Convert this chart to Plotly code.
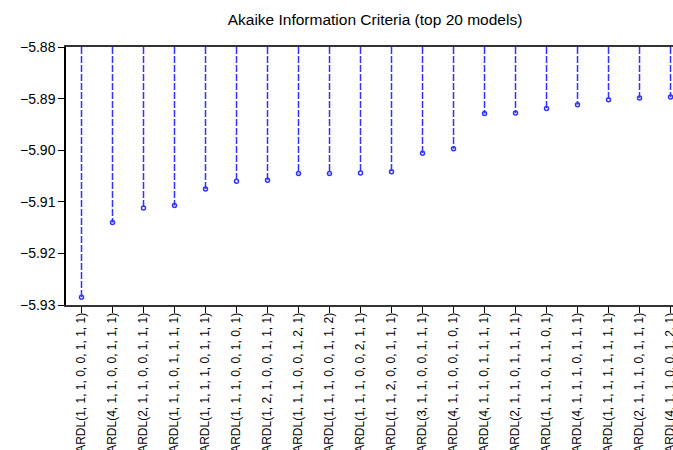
import plotly.graph_objects as go

models = [
    "ARDL(1, 1, 1, 0, 0, 1, 1, 1)",
    "ARDL(4, 1, 1, 0, 0, 1, 1, 1)",
    "ARDL(2, 1, 1, 0, 0, 1, 1, 1)",
    "ARDL(1, 1, 1, 0, 1, 1, 1, 1)",
    "ARDL(1, 1, 1, 1, 0, 1, 1, 1)",
    "ARDL(1, 1, 1, 0, 0, 1, 0, 1)",
    "ARDL(1, 2, 1, 0, 0, 1, 1, 1)",
    "ARDL(1, 1, 1, 0, 0, 1, 2, 1)",
    "ARDL(1, 1, 1, 0, 0, 1, 1, 2)",
    "ARDL(1, 1, 1, 0, 0, 2, 1, 1)",
    "ARDL(1, 1, 2, 0, 0, 1, 1, 1)",
    "ARDL(3, 1, 1, 0, 0, 1, 1, 1)",
    "ARDL(4, 1, 1, 0, 0, 1, 0, 1)",
    "ARDL(4, 1, 1, 0, 1, 1, 1, 1)",
    "ARDL(2, 1, 1, 0, 1, 1, 1, 1)",
    "ARDL(1, 1, 1, 0, 1, 1, 0, 1)",
    "ARDL(4, 1, 1, 1, 0, 1, 1, 1)",
    "ARDL(1, 1, 1, 1, 1, 1, 1, 1)",
    "ARDL(2, 1, 1, 1, 0, 1, 1, 1)",
    "ARDL(4, 1, 1, 0, 0, 1, 2, 1)",
]
aic = [
    -5.9285, -5.9140, -5.9112, -5.9107, -5.9075,
    -5.9060, -5.9058, -5.9045, -5.9045, -5.9044,
    -5.9042, -5.9006, -5.8997, -5.8929, -5.8928,
    -5.8919, -5.8912, -5.8902, -5.8899, -5.8897,
]
y_top = -5.88
y_bottom = -5.93
y_ticks = [-5.88, -5.89, -5.90, -5.91, -5.92, -5.93]

idx = list(range(len(models)))
stem_x, stem_y = [], []
for i, v in zip(idx, aic):
    stem_x += [i, i, None]
    stem_y += [y_top, v, None]

blue = "rgb(50,50,255)"
fig = go.Figure()
fig.add_trace(go.Scatter(x=stem_x, y=stem_y, mode="lines",
                         line=dict(color=blue, width=1.5, dash="7px,2px"),
                         hoverinfo="skip", showlegend=False))
fig.add_trace(go.Scatter(x=idx, y=aic, mode="markers",
                         marker=dict(symbol="circle-open", size=4, color=blue,
                                     line=dict(width=1.5, color=blue)),
                         showlegend=False))

font = "Liberation Sans, Arial, sans-serif"
fig.update_layout(
    width=673, height=450,
    margin=dict(l=66, r=0, t=47, b=145),
    paper_bgcolor="white", plot_bgcolor="white",
    title=dict(text="Akaike Information Criteria (top 20 models)",
               x=375/673, xref="container", xanchor="center",
               y=1 - 20/450, yref="container", yanchor="middle",
               font=dict(family=font, size=15.5, color="black")),
    xaxis=dict(
        tickmode="array", tickvals=idx, ticktext=models,
        range=[-0.5, 19.08], tickangle=-90, tickson="boundaries",
        ticks="outside", ticklen=6, tickcolor="black", tickwidth=1,
        showgrid=False, zeroline=False, automargin=False,
        ticklabeloverflow="allow", ticklabelstandoff=-5,
        showline=True, linecolor="#333333", linewidth=2, mirror=True,
        tickfont=dict(family=font, size=12, color="black"),
    ),
    yaxis=dict(
        range=[y_bottom, y_top], tickvals=y_ticks, tickformat=".2f",
        ticks="outside", ticklen=6, tickcolor="black", automargin=False,
        showgrid=False, zeroline=False,
        showline=True, linecolor="black", linewidth=1.5,
        tickfont=dict(family=font, size=14, color="black"),
    ),
)
fig.write_html("out.html", config={"displayModeBar": False},
               post_script="document.body.style.margin='0';document.body.style.overflow='hidden';")
